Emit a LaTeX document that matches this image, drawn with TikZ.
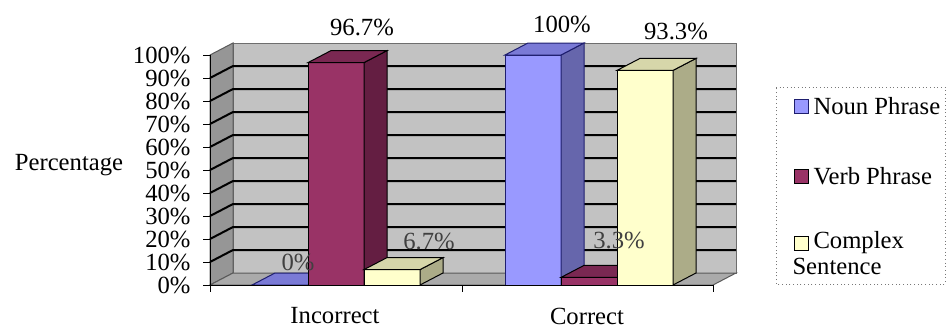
\documentclass[tikz,border=0pt]{standalone}
\usepackage{fontspec}
\setmainfont{Liberation Serif}
\begin{document}
\tikzset{every picture/.style={line width=0.75pt}}
\tikzset{lbl/.style={font=\fontsize{18.5}{20}\selectfont, inner sep=0pt}}

\begin{tikzpicture}[x=0.75pt,y=0.75pt,yscale=-1,xscale=1]
\path [use as bounding box] (0,0) rectangle (946,329);

%Shape: Back Wall
\draw  [color={rgb, 255:red, 110; green, 110; blue, 110 }  ,draw opacity=1 ][fill={rgb, 255:red, 194; green, 194; blue, 194 }  ,fill opacity=1 ] (233,43) -- (736,43) -- (736,273) -- (233,273) -- cycle ;
%Shape: Left Wall
\draw  [color={rgb, 255:red, 90; green, 90; blue, 90 }  ,draw opacity=1 ][fill={rgb, 255:red, 150; green, 150; blue, 150 }  ,fill opacity=1 ] (210,55) -- (233,43) -- (233,273) -- (210,285) -- cycle ;
%Shape: Floor
\draw  [color={rgb, 255:red, 90; green, 90; blue, 90 }  ,draw opacity=1 ][fill={rgb, 255:red, 170; green, 170; blue, 170 }  ,fill opacity=1 ] (210,285) -- (233,273) -- (736,273) -- (713,285) -- cycle ;

%Straight Lines (gridlines)
\draw [line width=1.5]  (210,78) -- (233,66) -- (736,66) ;
\draw [line width=1.5]  (210,101) -- (233,89) -- (736,89) ;
\draw [line width=1.5]  (210,124) -- (233,112) -- (736,112) ;
\draw [line width=1.5]  (210,147) -- (233,135) -- (736,135) ;
\draw [line width=1.5]  (210,170) -- (233,158) -- (736,158) ;
\draw [line width=1.5]  (210,193) -- (233,181) -- (736,181) ;
\draw [line width=1.5]  (210,216) -- (233,204) -- (736,204) ;
\draw [line width=1.5]  (210,239) -- (233,227) -- (736,227) ;
\draw [line width=1.5]  (210,262) -- (233,250) -- (736,250) ;

%Straight Lines (value axis and ticks)
\draw    (210,55) -- (210,285) ;
\draw    (203,55) -- (210,55) (203,78) -- (210,78) (203,101) -- (210,101) (203,124) -- (210,124) (203,147) -- (210,147) (203,170) -- (210,170) (203,193) -- (210,193) (203,216) -- (210,216) (203,239) -- (210,239) (203,262) -- (210,262) (203,285) -- (210,285) ;

%Shape: Noun Phrase, Incorrect (0%)
\draw  [color={rgb, 255:red, 30; green, 30; blue, 110 }  ][fill={rgb, 255:red, 122; green, 122; blue, 214 }  ] (252,285) -- (275,273) -- (331,273) -- (308,285) -- cycle ;
%Shape: Verb Phrase, Incorrect (96.7%)
\draw  [fill={rgb, 255:red, 153; green, 51; blue, 102 }  ] (308,62.6) -- (364,62.6) -- (364,285) -- (308,285) -- cycle ;
\draw  [fill={rgb, 255:red, 100; green, 30; blue, 66 }  ] (364,285) -- (387,273) -- (387,50.6) -- (364,62.6) -- cycle ;
\draw  [fill={rgb, 255:red, 122; green, 40; blue, 82 }  ] (308,62.6) -- (331,50.6) -- (387,50.6) -- (364,62.6) -- cycle ;
%Shape: Complex Sentence, Incorrect (6.7%)
\draw  [fill={rgb, 255:red, 255; green, 255; blue, 204 }  ] (364,269.6) -- (420,269.6) -- (420,285) -- (364,285) -- cycle ;
\draw  [fill={rgb, 255:red, 172; green, 172; blue, 136 }  ] (420,285) -- (443,273) -- (443,257.6) -- (420,269.6) -- cycle ;
\draw  [fill={rgb, 255:red, 214; green, 214; blue, 170 }  ] (364,269.6) -- (387,257.6) -- (443,257.6) -- (420,269.6) -- cycle ;

%Shape: Noun Phrase, Correct (100%)
\draw  [color={rgb, 255:red, 30; green, 30; blue, 110 }  ][fill={rgb, 255:red, 153; green, 153; blue, 255 }  ] (505,55) -- (561,55) -- (561,285) -- (505,285) -- cycle ;
\draw  [color={rgb, 255:red, 30; green, 30; blue, 110 }  ][fill={rgb, 255:red, 102; green, 102; blue, 172 }  ] (561,285) -- (584,273) -- (584,43) -- (561,55) -- cycle ;
\draw  [color={rgb, 255:red, 30; green, 30; blue, 110 }  ][fill={rgb, 255:red, 122; green, 122; blue, 214 }  ] (505,55) -- (528,43) -- (584,43) -- (561,55) -- cycle ;
%Shape: Verb Phrase, Correct (3.3%)
\draw  [fill={rgb, 255:red, 153; green, 51; blue, 102 }  ] (561,277.4) -- (617,277.4) -- (617,285) -- (561,285) -- cycle ;
\draw  [fill={rgb, 255:red, 122; green, 40; blue, 82 }  ] (561,277.4) -- (584,265.4) -- (640,265.4) -- (617,277.4) -- cycle ;
%Shape: Complex Sentence, Correct (93.3%)
\draw  [fill={rgb, 255:red, 255; green, 255; blue, 204 }  ] (617,70.4) -- (673,70.4) -- (673,285) -- (617,285) -- cycle ;
\draw  [fill={rgb, 255:red, 172; green, 172; blue, 136 }  ] (673,285) -- (696,273) -- (696,58.4) -- (673,70.4) -- cycle ;
\draw  [fill={rgb, 255:red, 214; green, 214; blue, 170 }  ] (617,70.4) -- (640,58.4) -- (696,58.4) -- (673,70.4) -- cycle ;

%Straight Lines (category axis and ticks)
\draw    (210,285) -- (713,285) ;
\draw    (210,285) -- (210,292) (462,285) -- (462,292) (713,285) -- (713,292) ;

% Text Node
\node [lbl, anchor=east] (y100) at (191,55) {100\%};
\node [lbl, anchor=east] (y90) at (191,78) {90\%};
\node [lbl, anchor=east] (y80) at (191,101) {80\%};
\node [lbl, anchor=east] (y70) at (191,124) {70\%};
\node [lbl, anchor=east] (y60) at (191,147) {60\%};
\node [lbl, anchor=east] (y50) at (191,170) {50\%};
\node [lbl, anchor=east] (y40) at (191,193) {40\%};
\node [lbl, anchor=east] (y30) at (191,216) {30\%};
\node [lbl, anchor=east] (y20) at (191,239) {20\%};
\node [lbl, anchor=east] (y10) at (191,262) {10\%};
\node [lbl, anchor=east] (y0) at (191,285) {0\%};
% Text Node
\node [lbl] (ytitle) at (69,165) {Percentage};
% Text Node
\node [lbl] (catInc) at (335,316) {Incorrect};
\node [lbl] (catCor) at (587,316) {Correct};
% Text Node
\node [lbl] (vInc) at (362,27) {96.7\%};
\node [lbl] (nCor) at (562,24) {100\%};
\node [lbl] (cCor) at (676,31) {93.3\%};
\node [lbl, color={rgb, 255:red, 64; green, 64; blue, 64 }] (nInc) at (298,262) {0\%};
\node [lbl, color={rgb, 255:red, 64; green, 64; blue, 64 }] (cInc) at (429,241) {6.7\%};
\node [lbl, color={rgb, 255:red, 64; green, 64; blue, 64 }] (vCor) at (619,240) {3.3\%};

%Shape: Legend box
\draw  [color={rgb, 255:red, 120; green, 120; blue, 120 }, dotted] (776,87) -- (945,87) -- (945,284) -- (776,284) -- cycle ;
\draw  [color={rgb, 255:red, 30; green, 30; blue, 110 }][fill={rgb, 255:red, 153; green, 153; blue, 255 }] (794,99) -- (808,99) -- (808,113) -- (794,113) -- cycle ;
\draw  [fill={rgb, 255:red, 153; green, 51; blue, 102 }] (794,169) -- (808,169) -- (808,183) -- (794,183) -- cycle ;
\draw  [fill={rgb, 255:red, 255; green, 255; blue, 204 }] (794,236) -- (808,236) -- (808,250) -- (794,250) -- cycle ;
% Text Node
\node [lbl, anchor=west] (legN) at (813,106) {Noun Phrase};
\node [lbl, anchor=west] (legV) at (813,176) {Verb Phrase};
\node [lbl, anchor=west] (legC) at (813,243) {Complex};
\node [lbl, anchor=west] (legS) at (792,266) {Sentence};

\end{tikzpicture}
\end{document}
